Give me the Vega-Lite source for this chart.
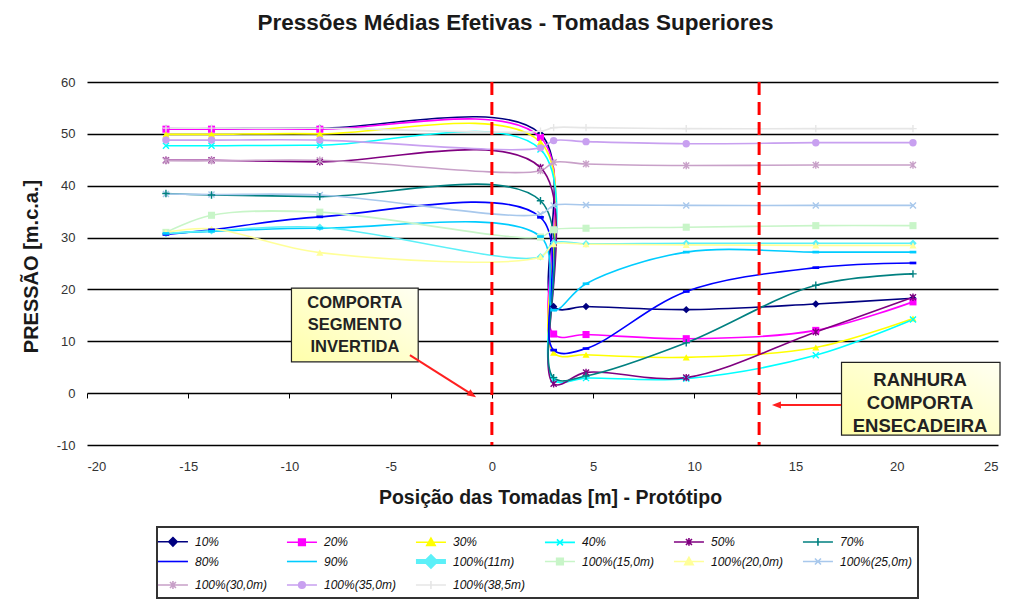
{
  "$schema": "https://vega.github.io/schema/vega-lite/v6.json",
  "width": 911,
  "height": 363,
  "autosize": {"type": "none"},
  "padding": {"left": 87, "top": 82, "right": 11, "bottom": 160},
  "background": "white",
  "config": {
    "font": "Liberation Sans",
    "view": {"stroke": null},
    "text": {"font": "Liberation Sans"}
  },
  "title": {
    "text": "Pressões Médias Efetivas - Tomadas Superiores",
    "fontSize": 22.5,
    "fontWeight": "bold",
    "color": "#1a1a1a",
    "anchor": "middle",
    "dx": -27,
    "offset": 42
  },
  "datasets": {
    "tomadas": [
      {"serie": "10%", "x": -16.1, "p": 51.0}, {"serie": "10%", "x": -13.85, "p": 51.0}, {"serie": "10%", "x": -8.5, "p": 51.1}, {"serie": "10%", "x": 2.4, "p": 50.0}, {"serie": "10%", "x": 3.05, "p": 16.7}, {"serie": "10%", "x": 4.65, "p": 16.7}, {"serie": "10%", "x": 9.6, "p": 16.1}, {"serie": "10%", "x": 16.0, "p": 17.2}, {"serie": "10%", "x": 20.8, "p": 18.3},
      {"serie": "20%", "x": -16.1, "p": 50.9}, {"serie": "20%", "x": -13.85, "p": 50.9}, {"serie": "20%", "x": -8.5, "p": 50.9}, {"serie": "20%", "x": 2.4, "p": 49.3}, {"serie": "20%", "x": 3.05, "p": 11.4}, {"serie": "20%", "x": 4.65, "p": 11.3}, {"serie": "20%", "x": 9.6, "p": 10.5}, {"serie": "20%", "x": 16.0, "p": 12.1}, {"serie": "20%", "x": 20.8, "p": 17.6},
      {"serie": "30%", "x": -16.1, "p": 49.9}, {"serie": "30%", "x": -13.85, "p": 49.9}, {"serie": "30%", "x": -8.5, "p": 50.0}, {"serie": "30%", "x": 2.4, "p": 48.4}, {"serie": "30%", "x": 3.05, "p": 7.8}, {"serie": "30%", "x": 4.65, "p": 7.4}, {"serie": "30%", "x": 9.6, "p": 6.9}, {"serie": "30%", "x": 16.0, "p": 8.8}, {"serie": "30%", "x": 20.8, "p": 14.4},
      {"serie": "40%", "x": -16.1, "p": 47.7}, {"serie": "40%", "x": -13.85, "p": 47.7}, {"serie": "40%", "x": -8.5, "p": 47.8}, {"serie": "40%", "x": 2.4, "p": 47.0}, {"serie": "40%", "x": 3.05, "p": 2.6}, {"serie": "40%", "x": 4.65, "p": 2.9}, {"serie": "40%", "x": 9.6, "p": 2.8}, {"serie": "40%", "x": 16.0, "p": 7.3}, {"serie": "40%", "x": 20.8, "p": 14.2},
      {"serie": "50%", "x": -16.1, "p": 44.9}, {"serie": "50%", "x": -13.85, "p": 44.9}, {"serie": "50%", "x": -8.5, "p": 44.6}, {"serie": "50%", "x": 2.4, "p": 43.5}, {"serie": "50%", "x": 3.05, "p": 1.8}, {"serie": "50%", "x": 4.65, "p": 4.0}, {"serie": "50%", "x": 9.6, "p": 3.0}, {"serie": "50%", "x": 16.0, "p": 11.8}, {"serie": "50%", "x": 20.8, "p": 18.5},
      {"serie": "70%", "x": -16.1, "p": 38.5}, {"serie": "70%", "x": -13.85, "p": 38.2}, {"serie": "70%", "x": -8.5, "p": 37.9}, {"serie": "70%", "x": 2.4, "p": 37.1}, {"serie": "70%", "x": 3.05, "p": 3.0}, {"serie": "70%", "x": 4.65, "p": 3.3}, {"serie": "70%", "x": 9.6, "p": 9.7}, {"serie": "70%", "x": 16.0, "p": 20.8}, {"serie": "70%", "x": 20.8, "p": 23.0},
      {"serie": "80%", "x": -16.1, "p": 30.6}, {"serie": "80%", "x": -13.85, "p": 31.5}, {"serie": "80%", "x": -8.5, "p": 34.0}, {"serie": "80%", "x": 2.4, "p": 33.9}, {"serie": "80%", "x": 3.05, "p": 8.3}, {"serie": "80%", "x": 4.65, "p": 8.6}, {"serie": "80%", "x": 9.6, "p": 19.6}, {"serie": "80%", "x": 16.0, "p": 24.2}, {"serie": "80%", "x": 20.8, "p": 25.1},
      {"serie": "90%", "x": -16.1, "p": 30.8}, {"serie": "90%", "x": -13.85, "p": 31.2}, {"serie": "90%", "x": -8.5, "p": 31.8}, {"serie": "90%", "x": 2.4, "p": 30.2}, {"serie": "90%", "x": 3.05, "p": 16.0}, {"serie": "90%", "x": 4.65, "p": 21.1}, {"serie": "90%", "x": 9.6, "p": 27.2}, {"serie": "90%", "x": 16.0, "p": 27.2}, {"serie": "90%", "x": 20.8, "p": 27.2},
      {"serie": "100%(11m)", "x": -16.1, "p": 30.8}, {"serie": "100%(11m)", "x": -13.85, "p": 31.3}, {"serie": "100%(11m)", "x": -8.5, "p": 32.0}, {"serie": "100%(11m)", "x": 2.4, "p": 26.3}, {"serie": "100%(11m)", "x": 3.05, "p": 29.0}, {"serie": "100%(11m)", "x": 4.65, "p": 28.8}, {"serie": "100%(11m)", "x": 9.6, "p": 28.9}, {"serie": "100%(11m)", "x": 16.0, "p": 28.9}, {"serie": "100%(11m)", "x": 20.8, "p": 28.9},
      {"serie": "100%(15,0m)", "x": -16.1, "p": 31.0}, {"serie": "100%(15,0m)", "x": -13.85, "p": 34.3}, {"serie": "100%(15,0m)", "x": -8.5, "p": 34.9}, {"serie": "100%(15,0m)", "x": 2.4, "p": 30.1}, {"serie": "100%(15,0m)", "x": 3.05, "p": 31.5}, {"serie": "100%(15,0m)", "x": 4.65, "p": 31.8}, {"serie": "100%(15,0m)", "x": 9.6, "p": 32.0}, {"serie": "100%(15,0m)", "x": 16.0, "p": 32.3}, {"serie": "100%(15,0m)", "x": 20.8, "p": 32.3},
      {"serie": "100%(20,0m)", "x": -16.1, "p": 31.0}, {"serie": "100%(20,0m)", "x": -13.85, "p": 31.7}, {"serie": "100%(20,0m)", "x": -8.5, "p": 27.1}, {"serie": "100%(20,0m)", "x": 2.4, "p": 26.3}, {"serie": "100%(20,0m)", "x": 3.05, "p": 28.7}, {"serie": "100%(20,0m)", "x": 4.65, "p": 28.7}, {"serie": "100%(20,0m)", "x": 9.6, "p": 28.6}, {"serie": "100%(20,0m)", "x": 16.0, "p": 28.5}, {"serie": "100%(20,0m)", "x": 20.8, "p": 28.5},
      {"serie": "100%(25,0m)", "x": -16.1, "p": 38.4}, {"serie": "100%(25,0m)", "x": -13.85, "p": 38.3}, {"serie": "100%(25,0m)", "x": -8.5, "p": 38.2}, {"serie": "100%(25,0m)", "x": 2.4, "p": 34.5}, {"serie": "100%(25,0m)", "x": 3.05, "p": 36.2}, {"serie": "100%(25,0m)", "x": 4.65, "p": 36.3}, {"serie": "100%(25,0m)", "x": 9.6, "p": 36.2}, {"serie": "100%(25,0m)", "x": 16.0, "p": 36.2}, {"serie": "100%(25,0m)", "x": 20.8, "p": 36.2},
      {"serie": "100%(30,0m)", "x": -16.1, "p": 44.8}, {"serie": "100%(30,0m)", "x": -13.85, "p": 44.8}, {"serie": "100%(30,0m)", "x": -8.5, "p": 44.9}, {"serie": "100%(30,0m)", "x": 2.4, "p": 42.9}, {"serie": "100%(30,0m)", "x": 3.05, "p": 44.5}, {"serie": "100%(30,0m)", "x": 4.65, "p": 44.2}, {"serie": "100%(30,0m)", "x": 9.6, "p": 43.9}, {"serie": "100%(30,0m)", "x": 16.0, "p": 44.0}, {"serie": "100%(30,0m)", "x": 20.8, "p": 44.0},
      {"serie": "100%(35,0m)", "x": -16.1, "p": 48.8}, {"serie": "100%(35,0m)", "x": -13.85, "p": 48.8}, {"serie": "100%(35,0m)", "x": -8.5, "p": 48.8}, {"serie": "100%(35,0m)", "x": 2.4, "p": 47.3}, {"serie": "100%(35,0m)", "x": 3.05, "p": 48.7}, {"serie": "100%(35,0m)", "x": 4.65, "p": 48.5}, {"serie": "100%(35,0m)", "x": 9.6, "p": 48.1}, {"serie": "100%(35,0m)", "x": 16.0, "p": 48.3}, {"serie": "100%(35,0m)", "x": 20.8, "p": 48.3},
      {"serie": "100%(38,5m)", "x": -16.1, "p": 51.1}, {"serie": "100%(38,5m)", "x": -13.85, "p": 51.1}, {"serie": "100%(38,5m)", "x": -8.5, "p": 51.1}, {"serie": "100%(38,5m)", "x": 2.4, "p": 50.5}, {"serie": "100%(38,5m)", "x": 3.05, "p": 51.2}, {"serie": "100%(38,5m)", "x": 4.65, "p": 51.2}, {"serie": "100%(38,5m)", "x": 9.6, "p": 51.0}, {"serie": "100%(38,5m)", "x": 16.0, "p": 51.0}, {"serie": "100%(38,5m)", "x": 20.8, "p": 51.0}
    ],
    "divisas": [{"x": 0}, {"x": 13.2}],
    "caixas": [
      {"x": -9.9, "x2": -3.64, "y": 20.25, "y2": 6.04},
      {"x": 17.27, "x2": 25.1, "y": 5.92, "y2": -8.1}
    ],
    "textos": [
      {"caixa": 1, "x": -6.77, "y": 17.4, "t": "COMPORTA"},
      {"caixa": 1, "x": -6.77, "y": 13.1, "t": "SEGMENTO"},
      {"caixa": 1, "x": -6.77, "y": 8.9, "t": "INVERTIDA"},
      {"caixa": 2, "x": 21.15, "y": 2.5, "t": "RANHURA"},
      {"caixa": 2, "x": 21.15, "y": -1.93, "t": "COMPORTA"},
      {"caixa": 2, "x": 21.15, "y": -6.36, "t": "ENSECADEIRA"}
    ],
    "setas": [
      {"seta": "a", "x": -4.05, "y": 7.33, "xf": -0.99, "yf": -0.25},
      {"seta": "b", "x": 17.25, "y": -2.31, "xf": 14.08, "yf": -2.31}
    ]
  },
  "layer": [
    {
      "data": {"name": "tomadas"},
      "mark": {"type": "line", "interpolate": "catmull-rom", "strokeWidth": 1.6},
      "encoding": {
        "x": {
          "field": "x", "type": "quantitative",
          "scale": {"domain": [-20, 25], "nice": false, "zero": false},
          "axis": {
            "title": "Posição das Tomadas [m] - Protótipo",
            "values": [-20, -15, -10, -5, 0, 5, 10, 15, 20, 25],
            "labelExpr": "datum.value < 0 ? '-' + abs(datum.value) : '' + datum.value",
            "offset": -52,
            "domain": false,
            "grid": false,
            "ticks": true,
            "tickColor": "#000",
            "tickSize": 5,
            "tickWidth": 1,
            "labelPadding": 62,
            "labelFontSize": 13,
            "labelColor": "#333",
            "titleFontSize": 19.5,
            "titleFontWeight": "bold",
            "titleColor": "#1a1a1a",
            "titleX": 463,
            "titleY": 104,
            "titleAlign": "center",
            "titleBaseline": "middle"
          }
        },
        "y": {
          "field": "p", "type": "quantitative",
          "scale": {"domain": [-10, 60], "nice": false, "zero": false},
          "axis": {
            "title": "PRESSÃO [m.c.a.]",
            "values": [-10, 0, 10, 20, 30, 40, 50, 60],
            "labelExpr": "datum.value < 0 ? '-' + abs(datum.value) : '' + datum.value",
            "grid": true,
            "gridColor": "#000",
            "gridWidth": 1.5,
            "domain": false,
            "ticks": false,
            "labelPadding": 12,
            "labelFontSize": 13,
            "labelColor": "#333",
            "titleFontSize": 20,
            "titleFontWeight": "bold",
            "titleColor": "#1a1a1a",
            "titleX": -56,
            "titleY": 184,
            "titleAngle": 270,
            "titleAlign": "center",
            "titleBaseline": "middle"
          }
        },
        "color": {
          "field": "serie", "type": "nominal",
          "scale": {
            "domain": ["10%", "20%", "30%", "40%", "50%", "70%", "80%", "90%", "100%(11m)", "100%(15,0m)", "100%(20,0m)", "100%(25,0m)", "100%(30,0m)", "100%(35,0m)", "100%(38,5m)"],
            "range": ["#000080", "#FF00FF", "#FFFF00", "#00FFFF", "#800080", "#008080", "#0000FF", "#00CCFF", "#5CF0F8", "#C8F5C8", "#FFFF99", "#A8C8EC", "#C8A0C8", "#C8A0F0", "#E6E6E6"]
          },
          "legend": {
            "orient": "none",
            "direction": "horizontal",
            "legendX": 70,
            "legendY": 445,
            "columns": 6,
            "title": null,
            "symbolSize": 900,
            "labelFontSize": 12,
            "labelFontStyle": "italic",
            "labelColor": "#111",
            "labelOffset": 21,
            "labelLimit": 140,
            "columnPadding": 8,
            "rowPadding": -6.5,
            "gridAlign": "all",
            "padding": 5,
            "strokeColor": "#333",
            "fillColor": "white",
            "encode": {
              "legend": {"update": {"strokeWidth": {"value": 2}}},
              "symbols": {
                "update": {
                  "shape": {"signal": "['M-0.67,0H1.33M0.33,-0.28L0.61,0L0.33,0.28L0.05,0Z', 'M-0.67,0H1.33M0.11,-0.22H0.55V0.22H0.11Z', 'M-0.67,0H1.33M0.33,-0.28L0.61,0.22H0.05Z', 'M-0.67,0H1.33M0.13,-0.2L0.53,0.2M0.13,0.2L0.53,-0.2', 'M-0.67,0H1.33M0.13,-0.2L0.53,0.2M0.13,0.2L0.53,-0.2M0.33,-0.26V0.26', 'M-0.67,0H1.33M0.33,-0.26V0.26', 'M-0.67,0H1.33', 'M-0.67,0H1.33', 'M-0.67,0H1.33M0.33,-0.28L0.61,0L0.33,0.28L0.05,0Z', 'M-0.67,0H1.33M0.11,-0.22H0.55V0.22H0.11Z', 'M-0.67,0H1.33M0.33,-0.28L0.61,0.22H0.05Z', 'M-0.67,0H1.33M0.13,-0.2L0.53,0.2M0.13,0.2L0.53,-0.2', 'M-0.67,0H1.33M0.13,-0.2L0.53,0.2M0.13,0.2L0.53,-0.2M0.33,-0.26V0.26', 'M-0.67,0H1.33M0.55,0A0.22,0.22,0,1,1,0.11,0A0.22,0.22,0,1,1,0.55,0Z', 'M-0.67,0H1.33M0.33,-0.26V0.26'][datum.index]"},
                  "strokeWidth": {"signal": "datum.index === 8 ? 5 : 1.6"},
                  "fill": {"scale": "color", "field": "value"},
                  "stroke": {"scale": "color", "field": "value"},
                  "opacity": {"value": 1}
                }
              }
            }
          }
        },
        "strokeWidth": {
          "condition": {"test": "datum.serie === '100%(11m)'", "value": 5},
          "value": 1.6
        }
      }
    },
    {
      "data": {"name": "tomadas"},
      "transform": [{"filter": {"field": "serie", "oneOf": ["10%", "100%(11m)"]}}],
      "mark": {"type": "point", "shape": "diamond", "filled": true, "size": 55, "opacity": 1},
      "encoding": {
        "x": {"field": "x", "type": "quantitative"},
        "y": {"field": "p", "type": "quantitative"},
        "color": {"field": "serie", "type": "nominal", "legend": null}
      }
    },
    {
      "data": {"name": "tomadas"},
      "transform": [{"filter": {"field": "serie", "oneOf": ["20%", "100%(15,0m)"]}}],
      "mark": {"type": "point", "shape": "square", "filled": true, "size": 50, "opacity": 1},
      "encoding": {
        "x": {"field": "x", "type": "quantitative"},
        "y": {"field": "p", "type": "quantitative"},
        "color": {"field": "serie", "type": "nominal", "legend": null}
      }
    },
    {
      "data": {"name": "tomadas"},
      "transform": [{"filter": {"field": "serie", "oneOf": ["30%", "100%(20,0m)"]}}],
      "mark": {"type": "point", "shape": "triangle-up", "filled": true, "size": 50, "opacity": 1},
      "encoding": {
        "x": {"field": "x", "type": "quantitative"},
        "y": {"field": "p", "type": "quantitative"},
        "color": {"field": "serie", "type": "nominal", "legend": null}
      }
    },
    {
      "data": {"name": "tomadas"},
      "transform": [{"filter": {"field": "serie", "oneOf": ["40%", "100%(25,0m)"]}}],
      "mark": {"type": "point", "shape": "M-0.9,-0.9L0.9,0.9M-0.9,0.9L0.9,-0.9", "filled": false, "size": 45, "strokeWidth": 1.4, "opacity": 1},
      "encoding": {
        "x": {"field": "x", "type": "quantitative"},
        "y": {"field": "p", "type": "quantitative"},
        "color": {"field": "serie", "type": "nominal", "legend": null}
      }
    },
    {
      "data": {"name": "tomadas"},
      "transform": [{"filter": {"field": "serie", "oneOf": ["50%", "100%(30,0m)"]}}],
      "mark": {"type": "point", "shape": "M-0.9,-0.9L0.9,0.9M-0.9,0.9L0.9,-0.9M0,-1.1V1.1", "filled": false, "size": 45, "strokeWidth": 1.4, "opacity": 1},
      "encoding": {
        "x": {"field": "x", "type": "quantitative"},
        "y": {"field": "p", "type": "quantitative"},
        "color": {"field": "serie", "type": "nominal", "legend": null}
      }
    },
    {
      "data": {"name": "tomadas"},
      "transform": [{"filter": {"field": "serie", "oneOf": ["70%", "100%(38,5m)"]}}],
      "mark": {"type": "point", "shape": "M-1.1,0H1.1M0,-1.1V1.1", "filled": false, "size": 45, "strokeWidth": 1.4, "opacity": 1},
      "encoding": {
        "x": {"field": "x", "type": "quantitative"},
        "y": {"field": "p", "type": "quantitative"},
        "color": {"field": "serie", "type": "nominal", "legend": null}
      }
    },
    {
      "data": {"name": "tomadas"},
      "transform": [{"filter": {"field": "serie", "oneOf": ["80%", "90%"]}}],
      "mark": {"type": "point", "shape": "M-1,-0.4H1V0.4H-1Z", "filled": true, "size": 45, "opacity": 1},
      "encoding": {
        "x": {"field": "x", "type": "quantitative"},
        "y": {"field": "p", "type": "quantitative"},
        "color": {"field": "serie", "type": "nominal", "legend": null}
      }
    },
    {
      "data": {"name": "tomadas"},
      "transform": [{"filter": {"field": "serie", "oneOf": ["100%(35,0m)"]}}],
      "mark": {"type": "point", "shape": "circle", "filled": true, "size": 55, "opacity": 1},
      "encoding": {
        "x": {"field": "x", "type": "quantitative"},
        "y": {"field": "p", "type": "quantitative"},
        "color": {"field": "serie", "type": "nominal", "legend": null}
      }
    },
    {
      "data": {"name": "divisas"},
      "mark": {"type": "rule", "color": "#FF0000", "strokeWidth": 3, "strokeDash": [13, 7]},
      "encoding": {"x": {"field": "x", "type": "quantitative"}}
    },
    {
      "data": {"name": "caixas"},
      "mark": {
        "type": "rect",
        "stroke": "#222",
        "strokeWidth": 1.2,
        "clip": false,
        "fill": {"gradient": "linear", "x1": 0, "y1": 1, "x2": 1, "y2": 0, "stops": [{"offset": 0, "color": "#FFFFAA"}, {"offset": 1, "color": "#FFFFF2"}]}
      },
      "encoding": {
        "x": {"field": "x", "type": "quantitative"},
        "x2": {"field": "x2"},
        "y": {"field": "y", "type": "quantitative"},
        "y2": {"field": "y2"}
      }
    },
    {
      "data": {"name": "textos"},
      "transform": [{"filter": "datum.caixa === 1"}],
      "mark": {"type": "text", "fontSize": 16.5, "fontWeight": "bold", "color": "#222", "align": "center", "baseline": "middle"},
      "encoding": {
        "x": {"field": "x", "type": "quantitative"},
        "y": {"field": "y", "type": "quantitative"},
        "text": {"field": "t"}
      }
    },
    {
      "data": {"name": "textos"},
      "transform": [{"filter": "datum.caixa === 2"}],
      "mark": {"type": "text", "fontSize": 18.5, "fontWeight": "bold", "color": "#222", "align": "center", "baseline": "middle"},
      "encoding": {
        "x": {"field": "x", "type": "quantitative"},
        "y": {"field": "y", "type": "quantitative"},
        "text": {"field": "t"}
      }
    },
    {
      "data": {"name": "setas"},
      "mark": {"type": "rule", "color": "#FF2020", "strokeWidth": 2},
      "encoding": {
        "x": {"field": "x", "type": "quantitative"},
        "y": {"field": "y", "type": "quantitative"},
        "x2": {"field": "xf"},
        "y2": {"field": "yf"}
      }
    },
    {
      "data": {"name": "setas"},
      "transform": [{"filter": "datum.seta === 'a'"}],
      "mark": {"type": "point", "shape": "M0,-1L0.7,0.8L-0.7,0.8Z", "filled": true, "color": "#FF2020", "size": 100, "angle": 123, "opacity": 1},
      "encoding": {
        "x": {"field": "xf", "type": "quantitative"},
        "y": {"field": "yf", "type": "quantitative"}
      }
    },
    {
      "data": {"name": "setas"},
      "transform": [{"filter": "datum.seta === 'b'"}],
      "mark": {"type": "point", "shape": "M0,-1L0.7,0.8L-0.7,0.8Z", "filled": true, "color": "#FF2020", "size": 100, "angle": 270, "opacity": 1},
      "encoding": {
        "x": {"field": "xf", "type": "quantitative"},
        "y": {"field": "yf", "type": "quantitative"}
      }
    }
  ]
}
